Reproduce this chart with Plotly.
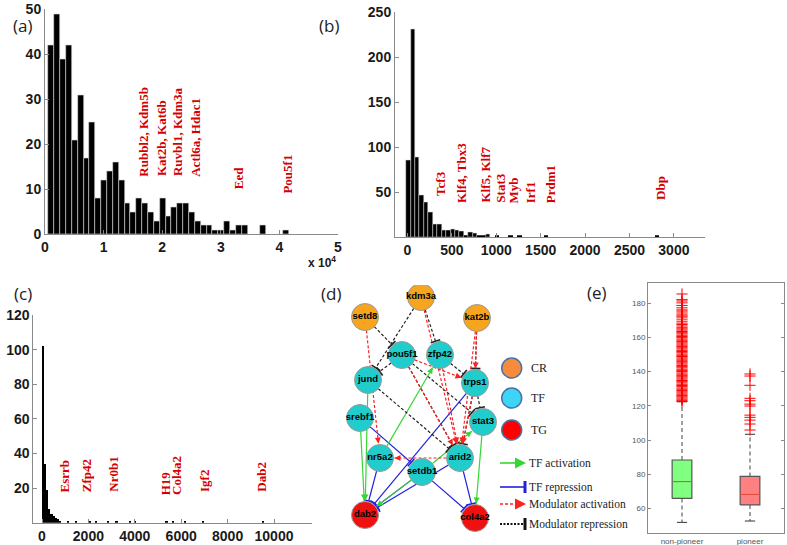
import numpy as np
import plotly.graph_objects as go

W, H = 787, 545

# ---------------- (a) data ----------------
a_bin_x = [1070, 2070, 3070, 4070, 5070, 6070, 7070, 8070, 9070, 10070,
           11070, 12070, 13070, 14070, 15070, 16070, 17070, 18070, 19070, 20070,
           21070, 22070, 23070, 24070, 25070, 26070, 27070, 28070, 29070, 30070,
           31070, 32070, 33070, 34070, 37150, 41150]
a_counts = [42, 49, 39, 42, 21, 31, 17, 25, 8, 12,
            14, 16, 12, 7, 5, 8, 7, 5, 3, 8,
            4, 6, 7, 7, 5, 3, 2, 2, 1, 1,
            3, 1, 2, 2, 2, 1]
a_tickvals = [0, 10000, 20000, 30000, 40000, 50000]
a_ticktext = ["0", "1", "2", "3", "4", "5"]
a_ytickvals = [0, 10, 20, 30, 40, 50]
a_genes = ["Rubbl2, Kdm5b", "Kat2b, Kat6b", "Ruvbl1, Kdm3a", "Actl6a, Hdac1", "Eed", "Pou5f1"]
a_gene_x = [16760, 19900, 22700, 25730, 33050, 41460]
a_gene_y = [12.4, 12.4, 12.4, 12.4, 9.5, 8.7]

# ---------------- (b) data ----------------
b_bin_x = [10, 60, 110, 160, 210, 260, 310, 360, 410, 460,
           510, 560, 610, 660, 710, 760, 810, 860, 910,
           1010, 1160, 1260, 1560, 2810]
b_counts = [85, 231, 89, 46, 39, 28, 14, 14, 8, 8,
            9, 7, 6, 2, 5, 4, 2, 1, 3,
            1, 1, 1, 1, 1]
b_tickvals = [0, 500, 1000, 1500, 2000, 2500, 3000]
b_ytickvals = [50, 100, 150, 200, 250]
b_genes = ["Tcf3", "Klf4, Tbx3", "Klf5, Klf7", "Stat3", "Myb", "Irf1", "Prdm1", "Dbp"]
b_gene_x = [379, 604, 868, 1044, 1194, 1383, 1608, 2854]
b_gene_y = [43, 35.6, 35.6, 35.6, 35.6, 35.6, 35.6, 39]

# ---------------- (c) data ----------------
c_bin_x = [45, 140, 235, 330, 425, 520, 615, 710, 805,
           1135, 1495, 2070, 2355, 2860, 3220, 3795, 4010, 5375, 5660, 6165, 6955, 9540]
c_counts = [102, 34, 19, 8, 5, 4, 3, 2, 1,
            1, 1, 1, 1, 1, 1, 1, 1, 1, 1, 1, 1, 1]
c_tickvals = [0, 2000, 4000, 6000, 8000, 10000]
c_ytickvals = [20, 40, 60, 80, 100, 120]
c_genes = ["Esrrb", "Zfp42", "Nr0b1", "H19", "Col4a2", "Igf2", "Dab2"]
c_gene_x = [948, 1927, 3073, 5302, 5806, 7026, 9470]
c_gene_y = [16.6, 16.6, 16.6, 14.7, 15.0, 16.6, 16.6]

# ---------------- (d) network ----------------
node_names = ["kdm3a", "setd8", "kat2b", "pou5f1", "zfp42", "jund", "trps1",
              "srebf1", "stat3", "nr5a2", "arid2", "setdb1", "dab2", "col4a2"]
node_x = [421, 365, 477, 402, 440, 368, 475, 360, 483, 380, 460, 422, 365, 475]
node_y = [297, 317, 318, 355, 355, 380, 383, 418, 422, 458, 458, 472, 515, 518]
node_kind = ["CR", "CR", "CR", "TF", "TF", "TF", "TF",
             "TF", "TF", "TF", "TF", "TF", "TG", "TG"]

edge_src = ["setd8", "kdm3a", "kat2b", "kat2b", "pou5f1", "pou5f1", "zfp42", "trps1", "arid2",
            "kdm3a", "kdm3a", "setd8", "kat2b", "pou5f1", "pou5f1", "pou5f1", "jund", "zfp42",
            "trps1", "trps1",
            "jund", "srebf1", "nr5a2", "stat3", "setdb1", "setdb1",
            "trps1", "nr5a2", "setdb1", "arid2", "setdb1", "arid2", "srebf1"]
edge_dst = ["nr5a2", "arid2", "trps1", "arid2", "trps1", "arid2", "arid2", "arid2", "nr5a2",
            "jund", "zfp42", "pou5f1", "trps1", "jund", "stat3", "arid2", "arid2", "trps1",
            "stat3", "arid2",
            "dab2", "dab2", "zfp42", "col4a2", "dab2", "stat3",
            "dab2", "dab2", "dab2", "dab2", "col4a2", "col4a2", "setdb1"]
edge_kind = ["ma"] * 9 + ["mr"] * 11 + ["ta"] * 6 + ["tr"] * 7

legend_kinds = ["CR", "TF", "TG"]
legend_edges = ["TF activation", "TF repression", "Modulator activation", "Modulator repression"]

# ---------------- (e) boxplot ----------------
e_groups = ["non-pioneer", "pioneer"]
e_q1 = [66, 62.2]
e_median = [75.8, 68.3]
e_q3 = [88.4, 78.8]
e_low = [52, 52.8]
e_high = [122.4, 103.4]
e_out_nonpioneer = [122.5, 123.2, 123.9, 124.6, 125.3, 126.0, 126.8, 127.5, 128.2, 129.0,
                    129.7, 130.4, 131.2, 131.9, 132.6, 133.4, 134.1, 134.8, 135.6, 136.3,
                    137.0, 137.8, 138.5, 139.2, 140.0, 140.7, 141.4, 142.2, 142.9, 143.6,
                    144.4, 145.1, 145.8, 146.6, 147.3, 148.0, 148.8, 149.5, 150.2, 151.0,
                    151.7, 152.4, 153.2, 153.9, 154.6, 155.4, 156.1, 156.8, 157.6, 158.3,
                    159.0, 159.8, 160.5, 161.2, 162.0, 162.7, 163.4, 164.2, 164.9, 165.6,
                    166.6, 167.5, 168.3, 169.4, 170.6, 171.8, 172.4, 173.1, 174.2, 175.3,
                    176.0, 177.2, 178.6, 180.1, 181.2, 182.0, 185.3]
e_out_pioneer = [105.9, 109.4, 111.7, 113.3, 114.6, 119.9, 121.0, 123.0, 124.4, 132.0, 137.4, 138.6]
e_ytickvals = [60, 80, 100, 120, 140, 160, 180]


def xd(p0, p1):
    return [p0 / W, p1 / W]


def yd(top, bottom):
    return [1 - bottom / H, 1 - top / H]


def bold(vals):
    return ["<b>%s</b>" % v for v in vals]


fig = go.Figure()

RED = "#d40000"
tick_font = dict(family="Liberation Sans", size=14, color="#1a1a1a")
hist_axis = dict(showline=True, linecolor="#8a8a8a", linewidth=1, ticks="inside",
                 ticklen=4, tickcolor="#8a8a8a", showgrid=False, zeroline=False,
                 tickfont=tick_font, automargin=False)

# ---------------- Histograms ----------------

fig.add_trace(go.Bar(x=a_bin_x, y=a_counts, width=1000, xaxis="x", yaxis="y",
                     marker=dict(color="black", line=dict(color="#d8d8d8", width=0.6))))
fig.add_trace(go.Bar(x=b_bin_x, y=b_counts, width=50, xaxis="x2", yaxis="y2",
                     marker=dict(color="black",
                                 line=dict(color="#d8d8d8",
                                           width=[0.5 if v > 2 else 0 for v in b_counts]))))
fig.add_trace(go.Bar(x=c_bin_x, y=c_counts, width=95, xaxis="x3", yaxis="y3",
                     marker=dict(color="black", line=dict(width=0))))

annotations = []
gene_font = dict(family="Liberation Serif", size=13, color=RED, weight="bold")
for names, xs, ys, ax in [(a_genes, a_gene_x, a_gene_y, ""),
                          (b_genes, b_gene_x, b_gene_y, "2"),
                          (c_genes, c_gene_x, c_gene_y, "3")]:
    for t, gx, gy in zip(names, xs, ys):
        annotations.append(dict(text=t, x=gx, y=gy, xref="x" + ax, yref="y" + ax,
                                textangle=-90, xanchor="center", yanchor="bottom",
                                showarrow=False, font=gene_font))

annotations.append(dict(text="<b>x 10<sup>4</sup></b>", x=322 / W, y=1 - 262 / H, xref="paper",
                        yref="paper", showarrow=False,
                        font=dict(family="Liberation Sans", size=12, color="#1a1a1a")))

panel_font = dict(family="Open Sans", size=17, color="#222")
for lab, px, py in [("(a)", 11, 12), ("(b)", 329, 12), ("(c)", 12, 293),
                    ("(d)", 331, 293), ("(e)", 609, 292)]:
    annotations.append(dict(text=lab, x=px / W, y=1 - py / H, xref="paper", yref="paper",
                            showarrow=False, font=panel_font))

# ---------------- Network ----------------

pos = {n: np.array([x, y], dtype=float) for n, x, y in zip(node_names, node_x, node_y)}
R = 13.5
edge_style = {
    "ta": dict(color="#35d635", dash="solid", head="arrow"),
    "tr": dict(color="#2020dd", dash="solid", head="bar"),
    "ma": dict(color="#ff2020", dash="3px,2px", head="arrow"),
    "mr": dict(color="#222222", dash="3px,2px", head="bar"),
}
for kind in ["tr", "ta", "mr", "ma"]:
    st = edge_style[kind]
    xs, ys, bx, by = [], [], [], []
    for s, d, k in zip(edge_src, edge_dst, edge_kind):
        if k != kind:
            continue
        p0, p1 = pos[s], pos[d]
        u = (p1 - p0) / np.linalg.norm(p1 - p0)
        a = p0 + u * R
        b = p1 - u * (R + 1)
        xs += [a[0], b[0], None]
        ys += [a[1], b[1], None]
        if st["head"] == "arrow":
            t = b - u * 6
            annotations.append(dict(x=b[0], y=b[1], ax=t[0], ay=t[1], xref="x4", yref="y4",
                                    axref="x4", ayref="y4", text="", showarrow=True,
                                    arrowhead=2, arrowsize=1, arrowwidth=1.2,
                                    arrowcolor=st["color"], standoff=0, startstandoff=0))
        else:
            nrm = np.array([-u[1], u[0]])
            e1, e2 = b + nrm * 5, b - nrm * 5
            bx += [e1[0], e2[0], None]
            by += [e1[1], e2[1], None]
    fig.add_trace(go.Scatter(x=xs, y=ys, mode="lines", xaxis="x4", yaxis="y4",
                             line=dict(color=st["color"], width=1.2, dash=st["dash"]),
                             hoverinfo="skip"))
    if bx:
        fig.add_trace(go.Scatter(x=bx, y=by, mode="lines", xaxis="x4", yaxis="y4",
                                 line=dict(color=st["color"], width=1.6), hoverinfo="skip"))

node_colors = {"CR": "#f7a41e", "TF": "#20cccc", "TG": "#f01010"}
fig.add_trace(go.Scatter(
    x=node_x, y=node_y, mode="markers+text", text=node_names, xaxis="x4", yaxis="y4",
    marker=dict(size=27, color=[node_colors[k] for k in node_kind],
                line=dict(color="#9a9a9a", width=1)),
    textfont=dict(family="Liberation Sans", size=9.5, color="black", weight="bold"),
    textposition="middle center", hoverinfo="skip"))

# legend of network
leg_colors = {"CR": "#f58b3c", "TF": "#3dd5f5", "TG": "#ff0000"}
leg_y = [368, 398, 430]
fig.add_trace(go.Scatter(
    x=[511.7] * 3, y=leg_y, mode="markers", xaxis="x4", yaxis="y4",
    marker=dict(size=20, color=[leg_colors[k] for k in legend_kinds],
                line=dict(color="#4a72a8", width=1.5)), hoverinfo="skip"))
for k, ly in zip(legend_kinds, leg_y):
    annotations.append(dict(text=k, x=529, y=ly, xref="x4", yref="y4", xanchor="left",
                            showarrow=False,
                            font=dict(family="Liberation Serif", size=12, color="#222")))

le_y = [463, 487, 504, 524]
le_style = [("#35d635", "solid", "arrow", 1.6), ("#2020dd", "solid", "bar", 1.6),
            ("#ff2020", "3px,2px", "arrow", 1.6), ("#111111", "2px,1.5px", "bar", 2)]
for lab, ly, (col, dash, head, w) in zip(legend_edges, le_y, le_style):
    fig.add_trace(go.Scatter(x=[500, 524], y=[ly, ly], mode="lines", xaxis="x4", yaxis="y4",
                             line=dict(color=col, width=w, dash=dash), hoverinfo="skip"))
    if head == "arrow":
        annotations.append(dict(x=526, y=ly, ax=517, ay=ly, xref="x4", yref="y4",
                                axref="x4", ayref="y4", text="", showarrow=True,
                                arrowhead=2, arrowsize=1, arrowwidth=2.2,
                                arrowcolor=col, standoff=0))
    else:
        fig.add_trace(go.Scatter(x=[525, 525], y=[ly - 6, ly + 6], mode="lines",
                                 xaxis="x4", yaxis="y4", line=dict(color=col, width=3),
                                 hoverinfo="skip"))
    annotations.append(dict(text=lab, x=527, y=ly, xref="x4", yref="y4", xanchor="left",
                            showarrow=False,
                            font=dict(family="Liberation Serif", size=11.5, color="#222")))

# ---------------- Boxplot ----------------

box_fill = ["#80ff80", "#ff8080"]
hw, cw = 0.145, 0.075
for i, g in enumerate(e_groups):
    c = i + 1
    fig.add_trace(go.Scatter(
        x=[c, c, None, c, c], y=[e_q3[i], e_high[i], None, e_q1[i], e_low[i]],
        mode="lines", xaxis="x5", yaxis="y5",
        line=dict(color="#555", width=1.1, dash="4px,3px"), hoverinfo="skip"))
    fig.add_trace(go.Scatter(
        x=[c - cw, c + cw, None, c - cw, c + cw],
        y=[e_high[i], e_high[i], None, e_low[i], e_low[i]],
        mode="lines", xaxis="x5", yaxis="y5",
        line=dict(color="#444", width=1.1), hoverinfo="skip"))
    fig.add_trace(go.Scatter(
        x=[c - hw, c + hw, c + hw, c - hw, c - hw],
        y=[e_q1[i], e_q1[i], e_q3[i], e_q3[i], e_q1[i]],
        mode="lines", fill="toself", fillcolor=box_fill[i], xaxis="x5", yaxis="y5",
        line=dict(color="#555", width=1.2), hoverinfo="skip"))
    fig.add_trace(go.Scatter(
        x=[c - hw, c + hw], y=[e_median[i], e_median[i]], mode="lines",
        xaxis="x5", yaxis="y5", line=dict(color="#e0503a", width=1.1), hoverinfo="skip"))

for c, outs in [(1, e_out_nonpioneer), (2, e_out_pioneer)]:
    fig.add_trace(go.Scatter(
        x=[c] * len(outs), y=outs, mode="markers", xaxis="x5", yaxis="y5",
        marker=dict(symbol="cross-thin", size=8, color="red",
                    line=dict(color="red", width=1)), hoverinfo="skip"))

small_font = dict(family="Liberation Sans", size=8, color="#555")

fig.update_layout(
    template="none",
    width=W, height=H,
    margin=dict(l=0, r=0, t=0, b=0, pad=0),
    paper_bgcolor="white", plot_bgcolor="white",
    showlegend=False, bargap=0,
    annotations=annotations,
    xaxis=dict(domain=xd(45, 338), range=[0, 50000], anchor="y",
               tickvals=a_tickvals, ticktext=bold(a_ticktext), **hist_axis),
    yaxis=dict(domain=yd(9.3, 234.3), range=[0, 50], anchor="x",
               tickvals=a_ytickvals, ticktext=bold(a_ytickvals), **hist_axis),
    xaxis2=dict(domain=xd(395, 705), range=[-140, 3350], anchor="y2",
                tickvals=b_tickvals, ticktext=bold(b_tickvals), **hist_axis),
    yaxis2=dict(domain=yd(12.3, 237), range=[0, 250], anchor="x2",
                tickvals=b_ytickvals, ticktext=bold(b_ytickvals), **hist_axis),
    xaxis3=dict(domain=xd(33.3, 311.7), range=[-375, 11625], anchor="y3",
                tickvals=c_tickvals, ticktext=bold(c_tickvals), **hist_axis),
    yaxis3=dict(domain=yd(315, 522.7), range=[0, 120], anchor="x3",
                tickvals=c_ytickvals, ticktext=bold(c_ytickvals), **hist_axis),
    xaxis4=dict(domain=xd(330, 640), range=[330, 640], anchor="y4", visible=False,
                automargin=False),
    yaxis4=dict(domain=yd(285, 540), range=[540, 285], anchor="x4", visible=False,
                automargin=False),
    xaxis5=dict(domain=xd(648, 784), range=[0.5, 2.5], anchor="y5",
                tickvals=[1, 2], ticktext=e_groups, ticks="", showline=True,
                mirror=True, linecolor="#8a8a8a", showgrid=False, zeroline=False,
                tickfont=small_font, automargin=False),
    yaxis5=dict(domain=yd(283, 533), range=[45.8, 191.7], anchor="x5",
                tickvals=e_ytickvals, ticks="inside", ticklen=3, tickcolor="#8a8a8a",
                showline=True, mirror="ticks", linecolor="#8a8a8a", showgrid=False,
                zeroline=False, tickfont=small_font, automargin=False),
)

fig.write_html("out.html", config={"displayModeBar": False},
               post_script="document.body.style.margin = '0px';")
